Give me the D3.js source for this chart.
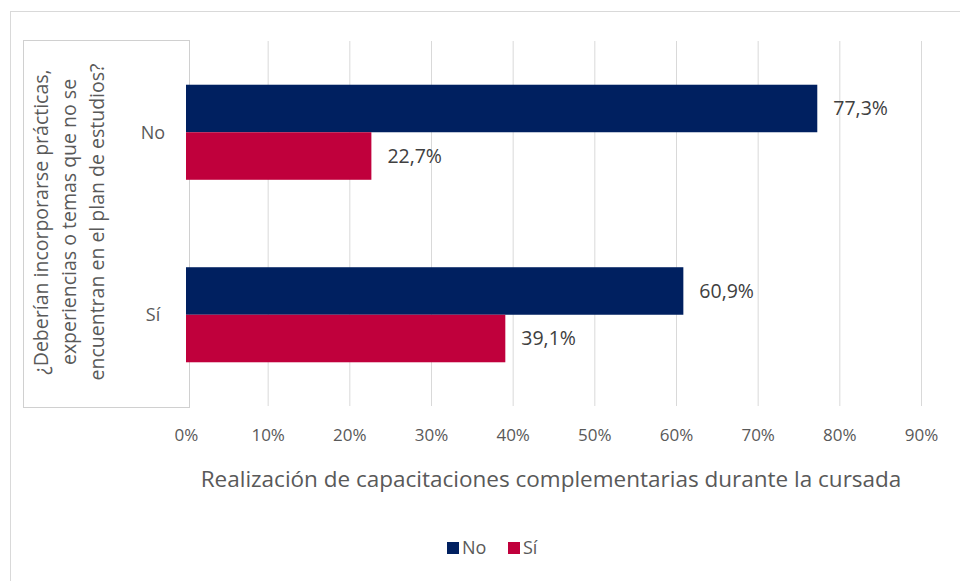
<!DOCTYPE html>
<html><head><meta charset="utf-8">
<script src="https://cdn.jsdelivr.net/npm/d3@7"></script>
<style>body{margin:0;background:#fff}svg{display:block}text{font-family:"Open Sans",sans-serif}</style>
</head><body>
<script>
const categories = ["No", "Sí"];
const seriesNames = ["No", "Sí"];
const valuesNo = [77.3, 60.9];
const valuesSi = [22.7, 39.1];
const xTicks = [0, 10, 20, 30, 40, 50, 60, 70, 80, 90];
const colors = ["#002060", "#C0003C"];
const yTitleLines = ["¿Deberían incorporarse prácticas,", "experiencias o temas que no se", "encuentran en el plan de estudios?"];
const xTitle = "Realización de capacitaciones complementarias durante la cursada";

const W = 960, H = 581;
const svg = d3.select("body").append("svg").attr("width", W).attr("height", H);
svg.append("rect").attr("x", 10.5).attr("y", 11.5).attr("width", 960).attr("height", 600)
  .attr("fill", "none").attr("stroke", "#d9d9d9");

const plot = {l: 186, r: 921, t: 41, b: 406};
const x = d3.scaleLinear().domain([0, 90]).range([plot.l, plot.r]);
const y0 = d3.scaleBand().domain(categories).range([plot.t, plot.b]).paddingInner(0).paddingOuter(0);
const y1 = d3.scaleBand().domain(seriesNames).range([0, y0.bandwidth()]).paddingInner(0).paddingOuter(0.92);

// gridlines
svg.append("g").selectAll("line").data(xTicks).join("line")
  .attr("x1", d => x(d) + 0.5).attr("x2", d => x(d) + 0.5)
  .attr("y1", plot.t).attr("y2", plot.b)
  .attr("stroke", "#d9d9d9").attr("stroke-width", 1);

// y title box
svg.append("rect").attr("x", 23.5).attr("y", 40.5).attr("width", 166).attr("height", 367)
  .attr("fill", "#fff").attr("stroke", "#d0d0d0");

const series = [valuesNo, valuesSi];
const data = [];
categories.forEach((c, i) => seriesNames.forEach((s, j) => data.push({c, s, j, v: series[j][i]})));

svg.append("g").selectAll("rect").data(data).join("rect")
  .attr("x", x(0)).attr("y", d => y0(d.c) + y1(d.s))
  .attr("width", d => x(d.v) - x(0)).attr("height", y1.bandwidth())
  .attr("fill", d => colors[d.j]);

const fmt = v => v.toFixed(1).replace(".", ",") + "%";
svg.append("g").selectAll("text").data(data).join("text")
  .attr("x", d => x(d.v) + 16).attr("y", d => y0(d.c) + y1(d.s) + y1.bandwidth() / 2)
  .attr("dy", "0.35em").attr("font-size", 19.5).attr("fill", "#404040")
  .text(d => fmt(d.v));

// category labels
svg.append("g").selectAll("text").data(categories).join("text")
  .attr("x", 153).attr("y", d => y0(d) + y0.bandwidth() / 2).attr("dy", "0.35em")
  .attr("text-anchor", "middle").attr("font-size", 18).attr("fill", "#595959").text(d => d);

// x axis tick labels
const xAxis = d3.axisBottom(x).tickValues(xTicks).tickSize(0).tickPadding(0).tickFormat(d => d + "%");
const gx = svg.append("g").attr("transform", `translate(0,${plot.b + 23})`).call(xAxis);
gx.select(".domain").remove();
gx.selectAll("text").attr("font-size", 17).attr("fill", "#595959").attr("font-family", '"Open Sans",sans-serif');

svg.append("text").attr("x", 551).attr("y", 487).attr("text-anchor", "middle")
  .attr("font-size", 22.5).attr("fill", "#595959").text(xTitle);

// y title
const yt = svg.append("text").attr("transform", `translate(70,222) rotate(-90)`)
  .attr("text-anchor", "middle").attr("font-size", 19.5).attr("fill", "#595959");
yTitleLines.forEach((t, i) => yt.append("tspan").attr("x", 0).attr("y", (i - 1) * 28 + 6).text(t));

// legend
const leg = svg.append("g").attr("transform", "translate(447,548)");
seriesNames.forEach((s, i) => {
  const g = leg.append("g").attr("transform", `translate(${i * 61},0)`);
  g.append("rect").attr("x", 0).attr("y", -6).attr("width", 12).attr("height", 12).attr("fill", colors[i]);
  g.append("text").attr("x", 15).attr("y", 0).attr("dy", "0.35em").attr("font-size", 18).attr("fill", "#595959").text(s);
});
</script>
</body></html>
